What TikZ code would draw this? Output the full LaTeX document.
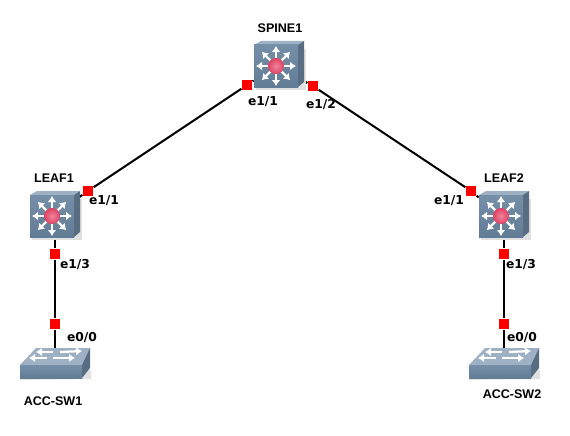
\documentclass[tikz,border=0pt]{standalone}
\usepackage{fontspec}
\setmainfont{Liberation Sans}
\newfontfamily\portfont{DejaVu Sans}
\usetikzlibrary{backgrounds,arrows.meta}
\definecolor{facetop}{RGB}{118,143,168}
\definecolor{facelow}{RGB}{98,124,150}
\definecolor{lidcol}{RGB}{158,176,195}
\definecolor{sidecol}{RGB}{88,108,130}
\definecolor{shadowcol}{RGB}{225,225,225}
\definecolor{ballcol}{RGB}{226,66,100}
\tikzset{
    port/.style={fill=red, draw=none, minimum size=8pt, inner sep=0pt},
    link/.style={line width=1.5pt, black},
    iflabel/.style={font=\portfont\bfseries\fontsize{9.2pt}{11pt}\selectfont, inner sep=0pt},
    devlabel/.style={font=\bfseries\fontsize{9.4pt}{11pt}\selectfont, inner sep=0pt},
    multibox/.style={minimum width=33pt, minimum height=31.5pt, inner sep=0pt},
    accessbox/.style={minimum width=45pt, minimum height=15pt, inner sep=0pt},
    whitearrow/.style={white, line width=1.7pt, -{Latex[length=4.5pt,width=6.5pt]}},
    multilayer/.pic={
        \fill[shadowcol] (-20,-17) -- (30,-17) -- (30,24) -- (-20,24) -- cycle;
        \fill[lidcol] (-22,-21) -- (-15,-25) -- (28,-25) -- (22,-21) -- cycle;
        \fill[sidecol] (22,-21) -- (28,-25) -- (28,16) -- (22,21) -- cycle;
        \shade[top color=facetop, bottom color=facelow] (-22,-21) rectangle (22,21);
        \foreach \a in {0,45,...,315} {
            \draw[whitearrow] (\a:6) -- (\a:20);
        }
        \shade[inner color=ballcol!65!white, outer color=ballcol] (0,0) circle (8);
    },
    accessswitch/.pic={
        \fill[shadowcol] (-35,3) -- (29,3) -- (36,8) -- (36,16) -- (-35,17) -- cycle;
        \fill[lidcol] (-35,2) -- (-19,-15) -- (35,-15) -- (27,2) -- cycle;
        \fill[sidecol] (27,2) -- (35,-15) -- (35,5) -- (27,15) -- cycle;
        \shade[top color=facetop, bottom color=facelow] (-35,2) rectangle (27,15);
        \draw[whitearrow] (-2,-11) -- (-19,-11);
        \draw[whitearrow] (5,-11) -- (27,-12);
        \draw[whitearrow] (-8,-5) -- (-26,-5);
        \draw[whitearrow] (-2,-5) -- (20,-5);
    }
}
\begin{document}
\begin{tikzpicture}[x=0.75pt, y=-0.75pt]
    \useasboundingbox (0,0) rectangle (570,435);
    \node[multibox] (spine) at (276,66) {};
    \node[multibox] (leafa) at (52,216) {};
    \node[multibox] (leafb) at (501,216) {};
    \node[accessbox] (acca) at (55,363) {};
    \node[accessbox] (accb) at (504,363) {};

    \node[port] (spineone) at (247,85) {};
    \node[port] (spinetwo) at (313,86) {};
    \node[port] (leafaup) at (88,191) {};
    \node[port] (leafbup) at (471,191) {};
    \node[port] (leafadown) at (55,254) {};
    \node[port] (leafbdown) at (504,254) {};
    \node[port] (accaup) at (55,324) {};
    \node[port] (accbup) at (504,324) {};

    \begin{scope}[on background layer]
        \draw[link] (spine) -- (spineone) -- (leafaup) -- (leafa);
        \draw[link] (spine) -- (spinetwo) -- (leafbup) -- (leafb);
        \draw[link] (leafadown.center |- leafa) -- (leafadown) -- (accaup) -- (accaup.center |- acca);
        \draw[link] (leafbdown.center |- leafb) -- (leafbdown) -- (accbup) -- (accbup.center |- accb);
    \end{scope}

    \pic at (spine) {multilayer};
    \pic at (leafa) {multilayer};
    \pic at (leafb) {multilayer};
    \pic at (acca) {accessswitch};
    \pic at (accb) {accessswitch};

    \node[devlabel] (spinename) at (280,28) {SPINE1};
    \node[devlabel] (leafaname) at (54,178) {LEAF1};
    \node[devlabel] (leafbname) at (504,178) {LEAF2};
    \node[devlabel] (accaname) at (53,401) {ACC-SW1};
    \node[devlabel] (accbname) at (512,394) {ACC-SW2};

    \node[iflabel] (spineonetext) at (263,102) {e1/1};
    \node[iflabel] (spinetwotext) at (321,105) {e1/2};
    \node[iflabel] (leafauptext) at (104,201) {e1/1};
    \node[iflabel] (leafbuptext) at (449,201) {e1/1};
    \node[iflabel] (leafadowntext) at (75,265) {e1/3};
    \node[iflabel] (leafbdowntext) at (521,265) {e1/3};
    \node[iflabel] (accauptext) at (82,338) {e0/0};
    \node[iflabel] (accbuptext) at (522,338) {e0/0};
\end{tikzpicture}
\end{document}
